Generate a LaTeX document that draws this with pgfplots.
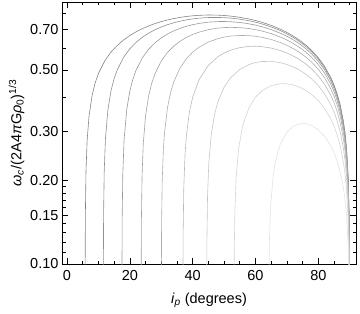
\documentclass[border=0pt]{standalone}
\usepackage{pgfplots}
\pgfplotsset{compat=1.18}
\usepackage{fontspec}
\setmainfont{Liberation Sans}
\begin{document}
\begin{tikzpicture}
\begin{axis}[
  scale only axis, width=294pt, height=262pt,
  ymode=log, xmin=-1.6, xmax=92, ymin=0.1, ymax=0.878,
  axis line style={line width=0.7pt},
  tick align=inside, xtick pos=both, ytick pos=both,
  xtick={0,20,40,60,80}, xticklabels={0,20,40,60,80},
  minor xtick={5,10,15,25,30,35,45,50,55,65,70,75,85,90},
  ytick={0.1,0.15,0.2,0.3,0.5,0.7}, yticklabels={0.10,0.15,0.20,0.30,0.50,0.70},
  minor ytick={0.11,0.12,0.13,0.14,0.16,0.17,0.18,0.19,0.4,0.6,0.8},
  major tick length=6pt, minor tick length=3.5pt,
  every tick/.style={black, line width=0.6pt},
  font=\fontsize{14.5}{17}\selectfont,
  xticklabel style={yshift=-3pt},
  xlabel style={yshift=-5pt},
  ylabel style={yshift=-1pt},
  xlabel={\textit{i}\textsubscript{\textit{p}} (degrees)},
  ylabel={\textit{ω}\textsubscript{\textit{c}}/(2A4\textit{π}G\textit{ρ}\textsubscript{0})\textsuperscript{1/3}},
  every axis plot/.append style={line width=0.6pt, no markers},
]
\addplot[black!48] coordinates {(5.759,0.0883) (5.839,0.1507) (6.039,0.2162) (6.4,0.2786) (7,0.3406) (8,0.4055) (9,0.4504) (10,0.4853) (12,0.5387) (14,0.5795) (16,0.6127) (18,0.6408) (20,0.6649) (22,0.6858) (24,0.7041) (26,0.7202) (28,0.7342) (30,0.7463) (32,0.7568) (34,0.7656) (36,0.7729) (38,0.7788) (40,0.7832) (42,0.7863) (45,0.7884) (48,0.7874) (50,0.7852) (52,0.7815) (55,0.7735) (58,0.7624) (60,0.7532) (62,0.7424) (65,0.7233) (68,0.7002) (70,0.6824) (72,0.6624) (74,0.6400) (76,0.6147) (78,0.5860) (80,0.5531) (82,0.5148) (84,0.4686) (85,0.4413) (86,0.4099) (87,0.3726) (88,0.3256) (88.5,0.2959) (89,0.2585) (89.5,0.2052) (89.8,0.1512) (89.9,0.1200) (89.95,0.0952)};
\addplot[black!44] coordinates {(11.557,0.0875) (11.637,0.1494) (11.837,0.2148) (12.237,0.2832) (13,0.3581) (14,0.4204) (15,0.4653) (16,0.5006) (18,0.5548) (20,0.5958) (22,0.6286) (24,0.6556) (26,0.6782) (28,0.6975) (30,0.7138) (32,0.7277) (34,0.7394) (36,0.7492) (38,0.7571) (40,0.7633) (42,0.7679) (45,0.7720) (48,0.7726) (50,0.7713) (52,0.7685) (55,0.7616) (58,0.7515) (60,0.7428) (62,0.7326) (65,0.7142) (68,0.6919) (70,0.6745) (72,0.6549) (74,0.6329) (76,0.6080) (78,0.5797) (80,0.5473) (82,0.5094) (84,0.4637) (85,0.4368) (86,0.4057) (87,0.3688) (88,0.3223) (88.5,0.2929) (89,0.2559) (89.5,0.2031) (89.8,0.1496) (89.9,0.1188) (89.95,0.0943)};
\addplot[black!40] coordinates {(17.478,0.0859) (17.558,0.1468) (17.758,0.2112) (18.158,0.2789) (19,0.3594) (20,0.4201) (21,0.4643) (22,0.4994) (24,0.5533) (26,0.5939) (28,0.6259) (30,0.6520) (32,0.6734) (34,0.6912) (36,0.7058) (38,0.7179) (40,0.7276) (42,0.7351) (45,0.7429) (48,0.7466) (50,0.7470) (52,0.7458) (55,0.7410) (58,0.7326) (60,0.7250) (62,0.7157) (65,0.6987) (68,0.6775) (70,0.6609) (72,0.6420) (74,0.6207) (76,0.5966) (78,0.5690) (80,0.5373) (82,0.5002) (84,0.4555) (85,0.4290) (86,0.3985) (87,0.3623) (88,0.3166) (88.5,0.2877) (89,0.2513) (89.5,0.1995) (89.8,0.1470) (89.9,0.1167) (89.95,0.0926)};
\addplot[black!36] coordinates {(23.598,0.0837) (23.678,0.1430) (23.878,0.2058) (24.278,0.2718) (25,0.3417) (26,0.4040) (27,0.4490) (28,0.4843) (30,0.5382) (32,0.5782) (34,0.6095) (36,0.6344) (38,0.6545) (40,0.6707) (42,0.6837) (45,0.6980) (48,0.7069) (50,0.7102) (52,0.7115) (55,0.7099) (58,0.7043) (60,0.6984) (62,0.6907) (65,0.6756) (68,0.6563) (70,0.6408) (72,0.6231) (74,0.6028) (76,0.5797) (78,0.5532) (80,0.5227) (82,0.4868) (84,0.4433) (85,0.4176) (86,0.3880) (87,0.3527) (88,0.3083) (88.5,0.2801) (89,0.2447) (89.5,0.1943) (89.8,0.1431) (89.9,0.1136) (89.95,0.0902)};
\addplot[black!32] coordinates {(30.02,0.0806) (30.1,0.1377) (30.3,0.1982) (30.7,0.2618) (31,0.2940) (32,0.3667) (33,0.4156) (34,0.4530) (36,0.5084) (38,0.5486) (40,0.5794) (42,0.6033) (45,0.6300) (48,0.6480) (50,0.6562) (52,0.6618) (55,0.6655) (58,0.6643) (60,0.6609) (62,0.6554) (65,0.6435) (68,0.6269) (70,0.6130) (72,0.5969) (74,0.5782) (76,0.5566) (78,0.5316) (80,0.5026) (82,0.4683) (84,0.4267) (85,0.4020) (86,0.3735) (87,0.3396) (88,0.2968) (88.5,0.2697) (89,0.2356) (89.5,0.1871) (89.8,0.1378) (89.9,0.1094) (89.95,0.0868)};
\addplot[black!27] coordinates {(36.89,0.0764) (36.97,0.1306) (37.17,0.1880) (37.57,0.2483) (38,0.2899) (39,0.3544) (40,0.3987) (42,0.4601) (45,0.5192) (48,0.5573) (50,0.5752) (52,0.5886) (55,0.6016) (58,0.6077) (60,0.6084) (62,0.6065) (65,0.5992) (68,0.5866) (70,0.5752) (72,0.5614) (74,0.5448) (76,0.5253) (78,0.5024) (80,0.4755) (82,0.4435) (84,0.4043) (85,0.3811) (86,0.3541) (87,0.3220) (88,0.2815) (88.5,0.2558) (89,0.2235) (89.5,0.1774) (89.8,0.1307) (89.9,0.1038) (89.95,0.0823)};
\addplot[black!22] coordinates {(44.447,0.0709) (44.527,0.1210) (44.727,0.1742) (45.127,0.2300) (45.927,0.2937) (47,0.3472) (48,0.3827) (50,0.4331) (52,0.4677) (55,0.5023) (58,0.5232) (60,0.5315) (62,0.5360) (65,0.5366) (68,0.5306) (70,0.5230) (72,0.5126) (74,0.4993) (76,0.4828) (78,0.4629) (80,0.4390) (82,0.4101) (84,0.3743) (85,0.3529) (86,0.3281) (87,0.2985) (88,0.2609) (88.5,0.2371) (89,0.2072) (89.5,0.1645) (89.8,0.1212) (89.9,0.0962)};
\addplot[black!17] coordinates {(53.15,0.0631) (53.23,0.1078) (53.43,0.1550) (53.83,0.2044) (54.63,0.2606) (56,0.3172) (58,0.3671) (60,0.3990) (62,0.4203) (65,0.4390) (68,0.4461) (70,0.4455) (72,0.4413) (74,0.4335) (76,0.4220) (78,0.4068) (80,0.3875) (82,0.3631) (84,0.3323) (85,0.3136) (86,0.2918) (87,0.2655) (88,0.2323) (88.5,0.2111) (89,0.1845) (89.5,0.1465) (89.8,0.1079) (89.9,0.0857)};
\addplot[black!11] coordinates {(64.178,0.0510) (64.258,0.0870) (64.458,0.1250) (64.858,0.1645) (65.658,0.2087) (66,0.2220) (67,0.2512) (68,0.2718) (70,0.2984) (72,0.3131) (74,0.3198) (76,0.3201) (78,0.3148) (80,0.3043) (82,0.2884) (84,0.2660) (85,0.2518) (86,0.2348) (87,0.2141) (88,0.1875) (88.5,0.1705) (89,0.1490) (89.5,0.1184) (89.8,0.0872)};
\end{axis}
\pgfresetboundingbox
\path ([shift={(-62pt,-49pt)}]current axis.south west) rectangle ([shift={(4pt,2pt)}]current axis.north east);
\end{tikzpicture}
\end{document}
